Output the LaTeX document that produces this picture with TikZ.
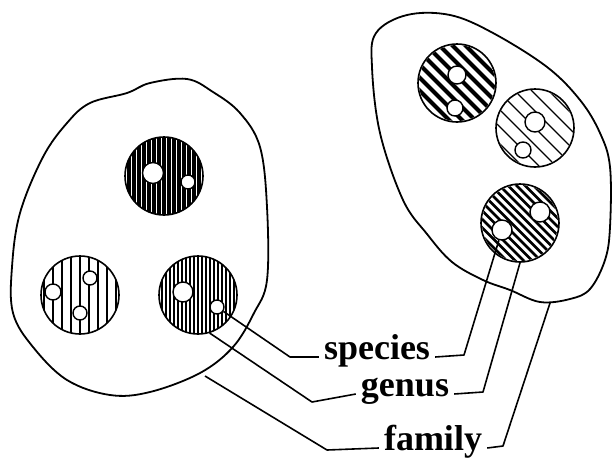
\documentclass[tikz,border=0pt]{standalone}
\usepackage{fontspec}
\setmainfont{Liberation Serif}
\begin{document}
\begin{tikzpicture}[x=1pt, y=-1pt, line join=round,
    every node/.style={font=\fontsize{36}{40}\selectfont\bfseries},
    contorno/.style={line width=1.8pt},
    conn/.style={line width=1.6pt},
    cella/.style={circle, draw, line width=1.6pt, inner sep=0pt, minimum size=78pt},
    buco/.style={circle, draw, line width=1.4pt, fill=white, inner sep=0pt, minimum size=#1},
    buco/.default=15pt,
    etich/.style={text height=0.46em, text depth=0pt, inner xsep=5pt}]
\useasboundingbox (0,0) rectangle (612,458);
% --- famiglia sinistra ---
\begin{scope}
    \draw[contorno] plot[smooth cycle, tension=0.6] coordinates {
        (187,79) (213,92) (240,113) (260,147) (267,207) (267,280) (254,313)
        (233,347) (200,373) (150,392) (110,395) (67,380) (33,347) (13,313)
        (12,267) (20,213) (43,157) (67,123) (90,103) (127,93) (150,83)};
    \coordinate (piedeL) at (205,376);
    % cella in alto
    \begin{scope}
        \clip (164,176) circle (39);
        \foreach \k in {-40,-35,...,40}
            \draw[line width=3.4pt] (164+\k,130) -- (164+\k,220);
    \end{scope}
    \node[cella] (l1) at (164,176) {};
    \node[buco=21pt] (l1a) at (153,173) {};
    \node[buco=14pt] (l1b) at (188,182) {};
    % cella in basso a sinistra
    \begin{scope}
        \clip (80,295) circle (39);
        \foreach \k in {-36,-27,...,36}
            \draw[line width=1.4pt] (80+\k,250) -- (80+\k,340);
    \end{scope}
    \node[cella] (l2) at (80,295) {};
    \node[buco=16pt] (l2a) at (53,292) {};
    \node[buco=14pt] (l2b) at (90,278) {};
    \node[buco=14pt] (l2c) at (80,313) {};
    % cella in basso a destra
    \begin{scope}
        \clip (198,295) circle (39);
        \foreach \k in {-40,-36,...,40}
            \draw[line width=1.6pt] (198+\k,250) -- (198+\k,340);
    \end{scope}
    \node[cella] (l3) at (198,295) {};
    \node[buco=20pt] (l3a) at (183,292) {};
    \node[buco=14pt] (l3b) at (217,307) {};
\end{scope}
% --- famiglia destra ---
\begin{scope}
    \draw[contorno] plot[smooth cycle, tension=0.6] coordinates {
        (407,15) (450,15) (493,33) (547,67) (580,100) (600,133) (610,167)
        (610,227) (605,260) (590,289) (570,299) (540,302) (510,290) (483,280)
        (452,262) (427,234) (403,200) (380,133) (372,67) (376,33)};
    \coordinate (piedeR) at (550,303);
    % cella in alto a sinistra
    \begin{scope}
        \clip (457,83) circle (38);
        \foreach \k in {-84,-71,...,84}
            \draw[line width=4pt] (457+\k-50,33) -- (457+\k+50,133);
    \end{scope}
    \node[cella] (r1) at (457,83) {};
    \node[buco=18pt] (r1a) at (457,75) {};
    \node[buco=16pt] (r1b) at (455,108) {};
    % cella al centro
    \begin{scope}
        \clip (535,128) circle (38);
        \foreach \k in {-85,-68,...,85}
            \draw[line width=1.4pt] (535+\k-50,78) -- (535+\k+50,178);
    \end{scope}
    \node[cella] (r2) at (535,128) {};
    \node[buco=20pt] (r2a) at (535,122) {};
    \node[buco=16pt] (r2b) at (523,150) {};
    % cella in basso
    \begin{scope}
        \clip (520,223) circle (38);
        \foreach \k in {-85,-76.5,...,85}
            \draw[line width=2.6pt] (520+\k-50,173) -- (520+\k+50,273);
    \end{scope}
    \node[cella] (r3) at (520,223) {};
    \node[buco=20pt] (r3a) at (540,212) {};
    \node[buco=20pt] (r3b) at (502,230) {};
\end{scope}
% --- etichette ---
\node[etich] (sp) at (377,357) {species};
\node[etich] (gn) at (405,394) {genus};
\node[etich] (fm) at (433,448) {family};
\draw[conn] (l3b) -- (290,357) -- (sp.west);
\draw[conn] (sp.east) -- (464,355) -- (r3b);
\draw[conn] (l3.-73) -- (312,402) -- (gn.west);
\draw[conn] (gn.east) -- (483,392) -- (r3.south);
\draw[conn] (piedeL) -- (327,450) -- (fm.west);
\draw[conn] (fm.east) -- (503,446) -- (piedeR);
\end{tikzpicture}
\end{document}
